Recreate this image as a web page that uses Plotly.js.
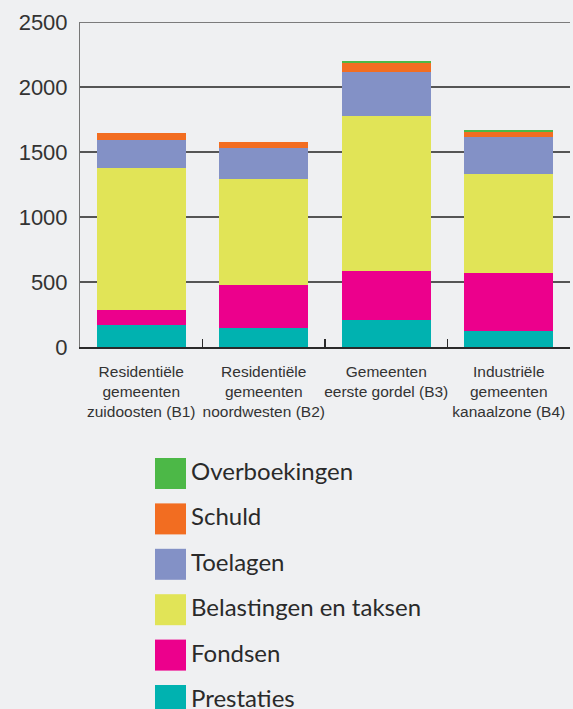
<!DOCTYPE html>
<html><head><meta charset="utf-8">
<script src="https://cdn.plot.ly/plotly-3.0.1.min.js"></script>
<style>html,body{margin:0;padding:0;background:#eff0f2;}</style>
</head><body>
<div id="chart" style="width:573px;height:709px;"></div>
<script>
const categories = [
  "Residentiële<br>gemeenten<br>zuidoosten (B1)",
  "Residentiële<br>gemeenten<br>noordwesten (B2)",
  "Gemeenten<br>eerste gordel (B3)",
  "Industriële<br>gemeenten<br>kanaalzone (B4)"
];
const seriesNames = ["Prestaties","Fondsen","Belastingen en taksen","Toelagen","Schuld","Overboekingen"];
const seriesColors = ["#00b2b0","#ec008c","#e1e457","#8391c6","#f26d21","#4cb847"];
const prestaties    = [167, 146, 208, 121];
const fondsen       = [115, 329, 377, 448];
const belastingen   = [1093, 815, 1192, 762];
const toelagen      = [220, 241, 338, 282];
const schuld        = [51, 44, 67, 41];
const overboekingen = [0, 0, 16, 13];
const yTicks = [0, 500, 1000, 1500, 2000, 2500];

const seriesValues = [prestaties, fondsen, belastingen, toelagen, schuld, overboekingen];
const traces = seriesValues.map((vals, i) => ({
  type: "bar", x: categories, y: vals, name: seriesNames[i],
  marker: {color: seriesColors[i], line: {width: 0}},
  showlegend: false, hoverinfo: "y+name"
}));

// custom legend (plot area: x 80..570 px, y 22..347 px)
const plotL = 80, plotW = 490, plotB = 347, plotH = 325;
const px2x = p => (p - plotL) / plotW;
const px2y = p => (plotB - p) / plotH;
const shapes = [{type: "line", xref: "paper", yref: "y", x0: 0, x1: 1,
  y0: yTicks[yTicks.length - 1], y1: yTicks[yTicks.length - 1],
  line: {color: "#555", width: 1.3}, layer: "below"}];
const annotations = [];
const order = [5,4,3,2,1,0];
order.forEach((si, row) => {
  const top = 458 + row * 45.4;
  shapes.push({type: "rect", xref: "paper", yref: "paper",
    x0: px2x(155), x1: px2x(186), y0: px2y(top + 31), y1: px2y(top),
    fillcolor: seriesColors[si], line: {width: 0}, layer: "above"});
  annotations.push({xref: "paper", yref: "paper", x: px2x(189), y: px2y(top + 12.5),
    xanchor: "left", yanchor: "middle", showarrow: false, text: seriesNames[si],
    font: {family: "Lato, 'Noto Sans', sans-serif", size: 24, color: "#2a2a2a"}});
});

const layout = {
  width: 573, height: 709,
  margin: {l: 80, r: 3, t: 22, b: 362},
  paper_bgcolor: "#eff0f2", plot_bgcolor: "#eff0f2",
  barmode: "stack", bargap: 0.274,
  xaxis: {
    range: [-0.5, 3.5], type: "category", tickangle: 0,
    showline: true, linecolor: "#2a2a2a", linewidth: 2,
    ticks: "inside", tickson: "boundaries", ticklen: 8, tickwidth: 1.5, tickcolor: "#2a2a2a",
    showgrid: false, automargin: false, ticklabelstandoff: 9,
    tickfont: {family: "'Liberation Sans', Arial, sans-serif", size: 15.5, color: "#333"}
  },
  yaxis: {
    range: [0, 2501], tickvals: yTicks, ticktext: yTicks.map(String),
    showgrid: true, gridcolor: "#555", gridwidth: 1.3,
    showline: true, linecolor: "#777", linewidth: 1,
    zeroline: false, ticks: "", ticklabelstandoff: 7,
    tickfont: {family: "'Liberation Sans', Arial, sans-serif", size: 22, color: "#333"}
  },
  shapes: shapes, annotations: annotations
};
Plotly.newPlot("chart", traces, layout, {displayModeBar: false, staticPlot: true});
</script>
</body></html>
